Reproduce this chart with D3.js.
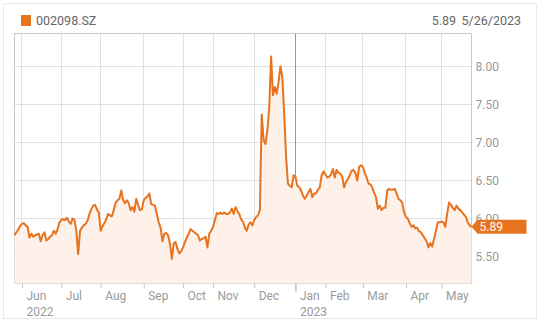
<!DOCTYPE html>
<html>
<head>
<meta charset="utf-8">
<script src="https://cdn.jsdelivr.net/npm/d3@7"></script>
<style>
	body { margin: 0; background: #fff; }
	svg text { font-family: Roboto, "Noto Sans", sans-serif; }
</style>
</head>
<body>
<svg id="chart"></svg>
<script>
const symbol = '002098.SZ';
const lastDate = '5/26/2023';

// daily closes, one per trading day (5/26/2022 .. 5/26/2023)
const closes = [
	5.78, 5.82, 5.86, 5.90, 5.93, 5.94, 5.91, 5.89, 5.75, 5.80,
	5.76, 5.78, 5.79, 5.80, 5.70, 5.78, 5.82, 5.71, 5.73, 5.76,
	5.78, 5.84, 5.80, 5.86, 5.95, 5.98, 5.99, 5.98, 6.01, 5.96,
	5.93, 6.00, 5.98, 5.84, 5.53, 5.84, 5.88, 5.91, 5.93, 5.97,
	6.06, 6.12, 6.17, 6.18, 6.12, 6.08, 5.84, 5.90, 5.94, 5.99,
	6.06, 6.04, 6.03, 6.11, 6.21, 6.24, 6.26, 6.37, 6.24, 6.20,
	6.24, 6.20, 6.11, 6.15, 6.09, 6.26, 6.18, 6.11, 6.12, 6.24,
	6.27, 6.29, 6.33, 6.19, 6.18, 6.17, 6.06, 5.95, 5.88, 5.70,
	5.80, 5.81, 5.78, 5.67, 5.47, 5.67, 5.69, 5.60, 5.54, 5.57,
	5.62, 5.69, 5.75, 5.80, 5.86, 5.84, 5.82, 5.80, 5.78, 5.71,
	5.73, 5.74, 5.76, 5.62, 5.80, 5.84, 5.89, 5.98, 6.07, 6.06,
	6.08, 6.06, 6.08, 6.06, 6.06, 6.08, 6.13, 6.06, 6.15, 6.10,
	6.06, 5.99, 5.96, 5.88, 5.84, 5.92, 5.95, 5.91, 5.98, 6.02,
	6.04, 6.11, 7.37, 7.03, 6.98, 7.16, 7.46, 8.13, 7.62, 7.73,
	7.64, 7.80, 8.00, 7.86, 7.38, 6.81, 6.46, 6.43, 6.41, 6.57,
	6.55, 6.43, 6.41, 6.37, 6.30, 6.26, 6.30, 6.35, 6.39, 6.28,
	6.33, 6.33, 6.38, 6.41, 6.57, 6.62, 6.58, 6.54, 6.55, 6.58,
	6.65, 6.54, 6.64, 6.60, 6.59, 6.55, 6.41, 6.48, 6.52, 6.57,
	6.63, 6.64, 6.60, 6.50, 6.68, 6.70, 6.68, 6.60, 6.54, 6.46,
	6.45, 6.41, 6.34, 6.28, 6.13, 6.17, 6.11, 6.14, 6.14, 6.37,
	6.39, 6.38, 6.38, 6.39, 6.33, 6.26, 6.24, 6.21, 6.08, 6.02,
	6.00, 5.94, 5.89, 5.91, 5.87, 5.88, 5.83, 5.82, 5.78, 5.74,
	5.70, 5.62, 5.68, 5.63, 5.73, 5.84, 5.95, 5.95, 5.96, 5.95,
	5.89, 6.06, 6.21, 6.18, 6.14, 6.11, 6.17, 6.13, 6.11, 6.08,
	6.05, 6.02, 5.95, 5.91, 5.89
];

// first trading day of each month (index into closes)
const monthStarts = [4, 25, 46, 69, 90, 106, 128, 150, 166, 186, 209, 228];
const monthLabels = ['Jun', 'Jul', 'Aug', 'Sep', 'Oct', 'Nov', 'Dec', 'Jan', 'Feb', 'Mar', 'Apr', 'May'];
const yearStarts = [4, 150];
const yearLabels = ['2022', '2023'];

const yTicks = [5.5, 6.0, 6.5, 7.0, 7.5, 8.0];

class PriceChart {
	constructor(_config, _data) {
		this.config = {
			parentElement: _config.parentElement,
			containerWidth: _config.containerWidth || 540,
			containerHeight: _config.containerHeight || 323,
			margin: _config.margin || { top: 33, right: 69, bottom: 40, left: 14 },
			lineColor: _config.lineColor || '#e8731f'
		}
		this.data = _data;
		this.initVis();
	}

	initVis() {
		let vis = this;

		vis.width = vis.config.containerWidth - vis.config.margin.left - vis.config.margin.right;
		vis.height = vis.config.containerHeight - vis.config.margin.top - vis.config.margin.bottom;

		vis.xScale = d3.scaleLinear()
			.domain([0, vis.data.length - 1])
			.range([0, vis.width]);

		vis.yScale = d3.scaleLinear()
			.domain([5.145, 8.434])
			.range([vis.height, 0]);

		vis.xAxis = d3.axisBottom(vis.xScale)
			.tickValues(monthStarts)
			.tickFormat((d, i) => monthLabels[i])
			.tickSizeOuter(0)
			.tickSizeInner(5)
			.tickPadding(3);

		vis.yAxis = d3.axisRight(vis.yScale)
			.tickValues(yTicks)
			.tickFormat(d3.format('.2f'))
			.tickSize(0)
			.tickPadding(4);

		vis.svg = d3.select(vis.config.parentElement)
			.attr('width', vis.config.containerWidth)
			.attr('height', vis.config.containerHeight);

		// outer frame
		vis.svg.append('rect')
			.attr('x', 3.5)
			.attr('y', 3.5)
			.attr('width', vis.config.containerWidth - 7)
			.attr('height', vis.config.containerHeight - 8)
			.attr('fill', 'none')
			.attr('stroke', '#e8e8e8');

		// legend / header
		vis.svg.append('rect')
			.attr('x', 21)
			.attr('y', 15)
			.attr('width', 10)
			.attr('height', 11)
			.attr('fill', vis.config.lineColor);

		vis.svg.append('text')
			.attr('x', 36)
			.attr('y', 25)
			.style('font-size', '12.5px')
			.attr('fill', '#666')
			.text(symbol);

		vis.svg.append('text')
			.attr('x', 521)
			.attr('y', 25)
			.style('font-size', '12.5px')
			.style('text-anchor', 'end')
			.attr('fill', '#666')
			.text(lastDate);

		vis.svg.append('text')
			.attr('class', 'last-price')
			.attr('x', 456)
			.attr('y', 25)
			.style('font-size', '12.5px')
			.style('text-anchor', 'end')
			.attr('fill', '#666');

		vis.chart = vis.svg.append('g')
			.attr('transform', `translate(${vis.config.margin.left + 0.5},${vis.config.margin.top + 0.5})`);

		vis.gridGroup = vis.chart.append('g').attr('class', 'grid');
		vis.areaPath = vis.chart.append('path').attr('class', 'area');
		vis.linePath = vis.chart.append('path').attr('class', 'line');

		vis.xAxisGroup = vis.chart.append('g')
			.attr('class', 'axis x-axis')
			.attr('transform', `translate(0,${vis.height})`);

		vis.yAxisGroup = vis.chart.append('g')
			.attr('class', 'axis y-axis')
			.attr('transform', `translate(${vis.width},0)`);

		vis.tagGroup = vis.chart.append('g').attr('class', 'price-tag');
	}

	updateVis() {
		let vis = this;
		vis.lastValue = vis.data[vis.data.length - 1];
		vis.renderVis();
	}

	renderVis() {
		let vis = this;

		// horizontal grid
		vis.gridGroup.selectAll('.hgrid')
			.data(yTicks)
			.join('line')
			.attr('class', 'hgrid')
			.attr('x1', 0)
			.attr('x2', vis.width)
			.attr('y1', d => Math.round(vis.yScale(d)))
			.attr('y2', d => Math.round(vis.yScale(d)))
			.attr('stroke', '#e0e0e0');

		// vertical grid at month starts, darker line at year change
		vis.gridGroup.selectAll('.vgrid')
			.data(monthStarts)
			.join('line')
			.attr('class', 'vgrid')
			.attr('x1', d => Math.round(vis.xScale(d)))
			.attr('x2', d => Math.round(vis.xScale(d)))
			.attr('y1', 0)
			.attr('y2', vis.height)
			.attr('stroke', (d, i) => (i > 0 && yearStarts.includes(d)) ? '#999' : '#e0e0e0');

		// plot frame
		vis.gridGroup.append('rect')
			.attr('x', 0)
			.attr('y', 0)
			.attr('width', vis.width)
			.attr('height', vis.height)
			.attr('fill', 'none')
			.attr('stroke', '#c8c8c8');

		const area = d3.area()
			.x((d, i) => vis.xScale(i))
			.y0(vis.height)
			.y1(d => vis.yScale(d));

		const line = d3.line()
			.x((d, i) => vis.xScale(i))
			.y(d => vis.yScale(d));

		vis.areaPath
			.datum(vis.data)
			.attr('d', area)
			.attr('fill', '#fdf1e9');

		vis.linePath
			.datum(vis.data)
			.attr('d', line)
			.attr('fill', 'none')
			.attr('stroke', vis.config.lineColor)
			.attr('stroke-width', 2)
			.attr('stroke-linejoin', 'round');

		// axes
		vis.xAxisGroup.call(vis.xAxis);
		vis.xAxisGroup.select('.domain').remove();
		vis.xAxisGroup.selectAll('.tick line')
			.attr('stroke', d => (d !== monthStarts[0] && yearStarts.includes(d)) ? '#999' : '#c8c8c8')
			.attr('y2', d => (d !== monthStarts[0] && yearStarts.includes(d)) ? 8 : 5);
		vis.xAxisGroup.selectAll('.tick text')
			.style('text-anchor', 'start')
			.style('font-size', '12px')
			.attr('fill', '#9a9a9a')
			.attr('x', 4)
			.attr('y', 8);
		vis.xAxisGroup.selectAll('.tick')
			.filter(d => yearStarts.includes(d))
			.append('text')
			.attr('x', 4)
			.attr('y', 24)
			.attr('dy', '0.71em')
			.style('font-size', '12px')
			.style('text-anchor', 'start')
			.attr('fill', '#9a9a9a')
			.text(d => yearLabels[yearStarts.indexOf(d)]);

		vis.yAxisGroup.call(vis.yAxis);
		vis.yAxisGroup.select('.domain').remove();
		vis.yAxisGroup.selectAll('.tick text')
			.style('font-size', '12px')
			.attr('fill', '#999');

		// last price tag
		const ty = vis.yScale(vis.lastValue);
		vis.tagGroup.append('path')
			.attr('d', `M${vis.width},${ty} L${vis.width + 6},${ty - 7} L${vis.width + 55},${ty - 7} L${vis.width + 55},${ty + 7} L${vis.width + 6},${ty + 7} Z`)
			.attr('fill', vis.config.lineColor);
		vis.tagGroup.append('text')
			.attr('x', vis.width + 8)
			.attr('y', ty + 4.5)
			.style('font-size', '12px')
			.attr('fill', '#fff')
			.text(d3.format('.2f')(vis.lastValue));

		vis.svg.select('.last-price').text(d3.format('.2f')(vis.lastValue));
	}
}

const chart = new PriceChart({ parentElement: '#chart' }, closes);
chart.updateVis();
</script>
</body>
</html>
